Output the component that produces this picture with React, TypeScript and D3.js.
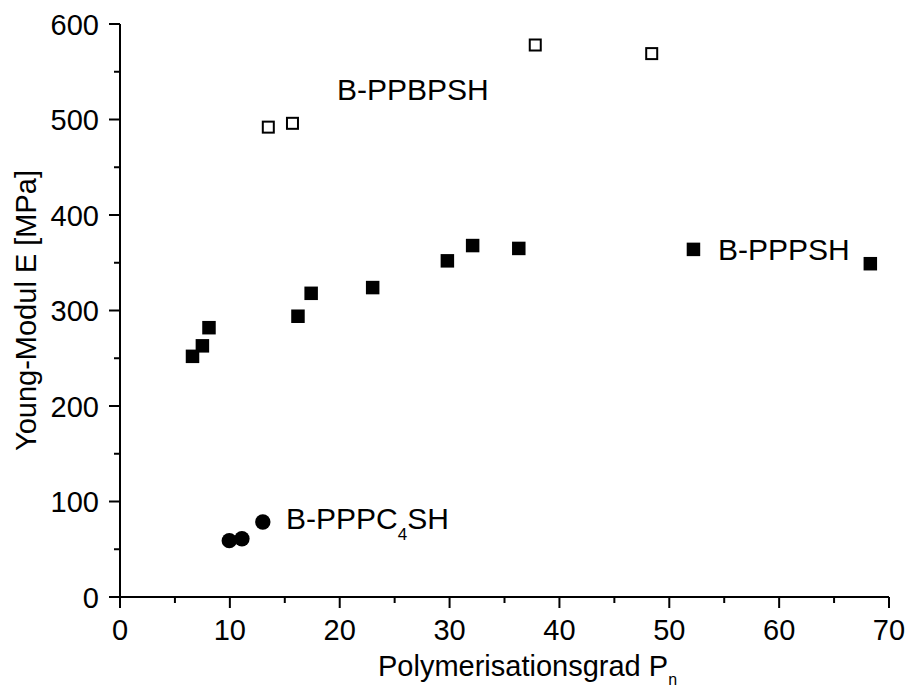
import React from "react";
import * as d3 from "d3";

const W = 908;
const H = 687;

// B-PPBPSH (open squares)
const ppbpshX = [13.5, 15.7, 37.8, 48.4];
const ppbpshY = [492, 496, 578, 569];

// B-PPPSH (filled squares)
const pppshX = [6.6, 7.5, 8.1, 16.2, 17.4, 23.0, 29.8, 32.1, 36.3, 52.2, 68.3];
const pppshY = [252, 263, 282, 294, 318, 324, 352, 368, 365, 364, 349];

// B-PPPC4SH (filled circles)
const pppc4X = [9.95, 11.1, 13.0];
const pppc4Y = [59, 61, 78.5];

const xTicks = [0, 10, 20, 30, 40, 50, 60, 70];
const yTicks = [0, 100, 200, 300, 400, 500, 600];

const FONT = "'Liberation Sans', Arial, Helvetica, sans-serif";

export default function App() {
  const x = d3.scaleLinear().domain([0, 70]).range([120, 889]);
  const y = d3.scaleLinear().domain([0, 600]).range([597, 24]);

  const xMinor = d3.range(5, 70, 10);
  const yMinor = d3.range(50, 600, 100);

  const sym = d3.symbol().type(d3.symbolSquare);

  return (
    <svg
      width={W}
      height={H}
      style={{ position: "absolute", left: 0, top: 0, background: "#fff" }}
      fontFamily={FONT}
    >
      {/* axes */}
      <line x1={x(0)} x2={x(70)} y1={y(0)} y2={y(0)} stroke="#000" strokeWidth={2} />
      <line x1={x(0)} x2={x(0)} y1={y(0)} y2={y(600)} stroke="#000" strokeWidth={2} />
      {xTicks.map((t) => (
        <g key={"xt" + t}>
          <line x1={x(t)} x2={x(t)} y1={y(0)} y2={y(0) + 11} stroke="#000" strokeWidth={2} />
          <text x={x(t)} y={640} textAnchor="middle" fontSize={29}>
            {t}
          </text>
        </g>
      ))}
      {xMinor.map((t) => (
        <line key={"xm" + t} x1={x(t)} x2={x(t)} y1={y(0)} y2={y(0) + 6} stroke="#000" strokeWidth={2} />
      ))}
      {yTicks.map((t) => (
        <g key={"yt" + t}>
          <line x1={x(0) - 11} x2={x(0)} y1={y(t)} y2={y(t)} stroke="#000" strokeWidth={2} />
          <text x={99} y={y(t) + 10.5} textAnchor="end" fontSize={29}>
            {t}
          </text>
        </g>
      ))}
      {yMinor.map((t) => (
        <line key={"ym" + t} x1={x(0) - 6} x2={x(0)} y1={y(t)} y2={y(t)} stroke="#000" strokeWidth={2} />
      ))}

      {/* axis titles */}
      <text x={378} y={676} textAnchor="start" fontSize={29}>
        Polymerisationsgrad P
        <tspan fontSize={16} dy={9}>n</tspan>
      </text>
      <text
        transform={`translate(36,${(y(0) + y(600)) / 2}) rotate(-90)`}
        textAnchor="middle"
        fontSize={29}
      >
        Young-Modul E [MPa]
      </text>

      {/* data */}
      {ppbpshX.map((v, i) => (
        <rect
          key={"o" + i}
          x={x(v) - 5.5}
          y={y(ppbpshY[i]) - 5.5}
          width={11}
          height={11}
          fill="#fff"
          stroke="#000"
          strokeWidth={2}
        />
      ))}
      {pppshX.map((v, i) => (
        <path
          key={"s" + i}
          d={sym.size(13.5 * 13.5)() as string}
          transform={`translate(${x(v)},${y(pppshY[i])})`}
          fill="#000"
        />
      ))}
      {pppc4X.map((v, i) => (
        <circle key={"c" + i} cx={x(v)} cy={y(pppc4Y[i])} r={7.7} fill="#000" />
      ))}

      {/* labels */}
      <text x={337} y={100} fontSize={30}>B-PPBPSH</text>
      <text x={718} y={260} fontSize={30}>B-PPPSH</text>
      <text x={286} y={529} fontSize={30}>
        B-PPPC<tspan fontSize={17} dy={11}>4</tspan>
        <tspan dy={-11}>SH</tspan>
      </text>
    </svg>
  );
}
